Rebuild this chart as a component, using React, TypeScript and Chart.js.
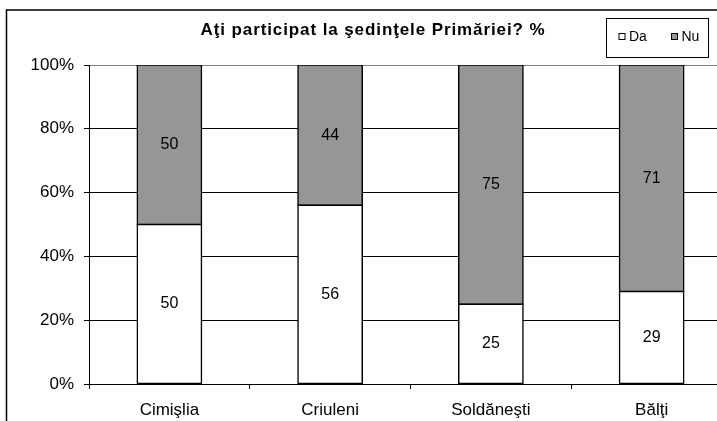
import React, { useEffect, useRef } from "react";
import { Chart, registerables } from "chart.js";

Chart.register(...registerables);

const categories = ["Cimişlia", "Criuleni", "Soldăneşti", "Bălţi"];
const daValues = [50, 56, 25, 29];
const nuValues = [50, 44, 75, 71];
const seriesNames = ["Da", "Nu"];
const titleText = "Aţi participat la şedinţele Primăriei? %";
const yTicks = [0, 20, 40, 60, 80, 100];

const FONT = "'Liberation Sans', Arial, sans-serif";
const GRAY = "#969696";

const W = 760;
const H = 440;

export default function App() {
  const ref = useRef<HTMLCanvasElement | null>(null);

  useEffect(() => {
    if (!ref.current) return;

    const framePlugin = {
      id: "frame",
      beforeDraw(chart: any) {
        const ctx = chart.ctx;
        ctx.save();
        ctx.fillStyle = "#fff";
        ctx.fillRect(0, 0, chart.width, chart.height);
        ctx.strokeStyle = "#000";
        ctx.lineWidth = 1.5;
        ctx.strokeRect(6.5, 10, 734, 425);
        ctx.restore();
      },
      afterDraw(chart: any) {
        const ctx = chart.ctx;
        ctx.save();
        // title
        ctx.fillStyle = "#000";
        ctx.font = `bold 17px ${FONT}`;
        try {
          (ctx as any).letterSpacing = "0.9px";
        } catch (e) {}
        ctx.textAlign = "center";
        ctx.textBaseline = "middle";
        ctx.fillText(titleText, 373, 30);
        try {
          (ctx as any).letterSpacing = "0px";
        } catch (e) {}
        // legend box
        ctx.strokeStyle = "#000";
        ctx.lineWidth = 1;
        ctx.fillStyle = "#fff";
        ctx.fillRect(606.5, 18.5, 102, 39);
        ctx.strokeRect(606.5, 18.5, 102, 39);
        const items = [
          { name: seriesNames[0], color: "#fff", x: 619 },
          { name: seriesNames[1], color: GRAY, x: 671.5 },
        ];
        ctx.font = `14px ${FONT}`;
        ctx.textAlign = "left";
        for (const it of items) {
          ctx.fillStyle = it.color;
          ctx.fillRect(it.x, 33.5, 6, 6);
          ctx.strokeStyle = "#000";
          ctx.strokeRect(it.x, 33.5, 6, 6);
          ctx.fillStyle = "#000";
          ctx.fillText(it.name, it.x + 10, 37);
        }
        // data labels
        ctx.font = `16px ${FONT}`;
        ctx.textAlign = "center";
        ctx.textBaseline = "middle";
        chart.data.datasets.forEach((ds: any, di: number) => {
          const meta = chart.getDatasetMeta(di);
          meta.data.forEach((el: any, i: number) => {
            const v = ds.data[i];
            ctx.fillText(String(v), el.x, (el.y + el.base) / 2);
          });
        });
        ctx.restore();
      },
    };

    const chart = new Chart(ref.current, {
      type: "bar",
      data: {
        labels: categories,
        datasets: [
          {
            label: seriesNames[0],
            data: daValues,
            backgroundColor: "#ffffff",
            borderColor: "#000",
            borderWidth: 1.5,
            borderSkipped: false,
            inflateAmount: 0.75,
          } as any,
          {
            label: seriesNames[1],
            data: nuValues,
            backgroundColor: GRAY,
            borderColor: "#000",
            borderWidth: 1.5,
            borderSkipped: false,
            inflateAmount: 0.75,
          } as any,
        ],
      },
      options: {
        animation: false,
        responsive: false,
        devicePixelRatio: 1,
        layout: { padding: { left: 0, top: 65, right: W - 732, bottom: H - 384 - 40 } },
        plugins: {
          legend: { display: false },
          title: { display: false },
          tooltip: { enabled: false },
        },
        datasets: { bar: { categoryPercentage: 1, barPercentage: 0.4 } } as any,
        scales: {
          x: {
            stacked: true,
            afterFit: (s: any) => {
              s.height = 40;
            },
            grid: {
              display: true,
              drawOnChartArea: false,
              drawTicks: true,
              tickLength: 5,
              tickColor: "#000",
              offset: true,
            },
            border: { display: true, color: "#000", width: 1 },
            ticks: {
              color: "#000",
              font: { family: FONT, size: 17 },
              padding: 11,
            },
          },
          y: {
            stacked: true,
            min: 0,
            max: 100,
            afterFit: (s: any) => {
              s.width = 89;
            },
            afterBuildTicks: (s: any) => {
              s.ticks = yTicks.map((v) => ({ value: v }));
            },
            grid: {
              color: (c: any) => (c.tick && c.tick.value === 100 ? "#808080" : "#000"),
              lineWidth: 1,
              drawTicks: true,
              tickLength: 5,
              tickColor: "#000",
            },
            border: { display: true, color: "#000", width: 1 },
            ticks: {
              color: "#000",
              font: { family: FONT, size: 17 },
              padding: 10,
              callback: (v: any) => `${v}%`,
            },
          },
        },
      },
      plugins: [framePlugin],
    });

    return () => chart.destroy();
  }, []);

  return (
    <div style={{ position: "fixed", left: 0, top: 0, width: W, height: H }}>
      <canvas ref={ref} width={W} height={H} style={{ width: W, height: H, display: "block" }} />
    </div>
  );
}
